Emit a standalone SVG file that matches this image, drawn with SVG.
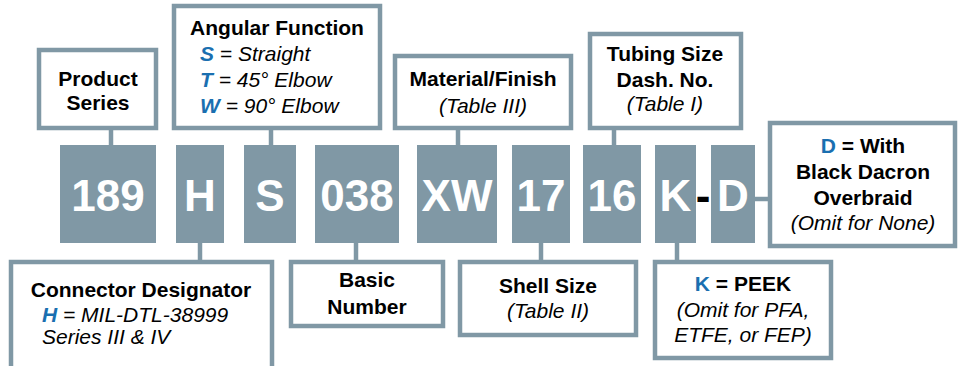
<svg xmlns="http://www.w3.org/2000/svg" width="959" height="366" viewBox="0 0 959 366">
<style>
.box{fill:#fff;stroke:#8098a5;stroke-width:4.5}
.code{fill:#8098a5}
.num{font-family:"Liberation Sans",Arial,sans-serif;font-weight:bold;font-size:44px;fill:#fff;text-anchor:middle}
.t{font-family:"Liberation Sans",Arial,sans-serif;font-size:21px;fill:#000}
.b{font-weight:bold}
.i{font-style:italic}
.c{text-anchor:middle}
.blue{fill:#1a6fb0}
.ln{stroke:#8098a5;stroke-width:4.5;fill:none}
</style>
<rect width="959" height="366" fill="#fff"/>
<g id="connectors">
<line class="ln" x1="111" y1="128" x2="111" y2="146"/>
<line class="ln" x1="271" y1="128" x2="271" y2="146"/>
<line class="ln" x1="458" y1="128" x2="458" y2="146"/>
<line class="ln" x1="614" y1="128" x2="614" y2="146"/>
<line class="ln" x1="200" y1="242" x2="200" y2="262"/>
<line class="ln" x1="356" y1="242" x2="356" y2="262"/>
<line class="ln" x1="541" y1="242" x2="541" y2="262"/>
<line class="ln" x1="677" y1="242" x2="677" y2="262"/>
<line class="ln" x1="753" y1="199" x2="770" y2="199"/>
</g>
<g id="code-189"><rect class="code" x="60" y="145" width="96" height="98"/><text class="num" x="108" y="211">189</text></g>
<g id="code-H"><rect class="code" x="176" y="145" width="48" height="98"/><text class="num" x="200" y="211">H</text></g>
<g id="code-S"><rect class="code" x="244" y="145" width="52" height="98"/><text class="num" x="270" y="211">S</text></g>
<g id="code-038"><rect class="code" x="315" y="145" width="84" height="98"/><text class="num" x="357" y="211">038</text></g>
<g id="code-XW"><rect class="code" x="417" y="145" width="80" height="98"/><text class="num" x="457" y="211">XW</text></g>
<g id="code-17"><rect class="code" x="512" y="145" width="58" height="98"/><text class="num" x="541" y="211">17</text></g>
<g id="code-16"><rect class="code" x="583" y="145" width="58" height="98"/><text class="num" x="612" y="211">16</text></g>
<g id="code-K"><rect class="code" x="655" y="145" width="41" height="98"/><text class="num" x="675.5" y="211">K</text></g>
<g id="dash"><text class="num" x="703" y="211" style="fill:#000">-</text></g>
<g id="code-D"><rect class="code" x="711" y="145" width="44" height="98"/><text class="num" x="733" y="211">D</text></g>

<g id="product-series"><rect class="box" x="39" y="50" width="117" height="78"/>
<text class="t b c" x="98" y="86">Product</text><text class="t b c" x="98" y="110">Series</text></g>

<g id="angular-function"><rect class="box" x="174" y="6" width="206" height="122"/>
<text class="t b c" x="277" y="35">Angular Function</text>
<text class="t i" x="200" y="61"><tspan class="b blue">S</tspan> = Straight</text>
<text class="t i" x="200" y="87"><tspan class="b blue">T</tspan> = 45° Elbow</text>
<text class="t i" x="200" y="113"><tspan class="b blue">W</tspan> = 90° Elbow</text></g>

<g id="material-finish"><rect class="box" x="395" y="56" width="176" height="72"/>
<text class="t b c" x="483" y="86">Material/Finish</text>
<text class="t i c" x="483" y="113">(Table III)</text></g>

<g id="tubing-size"><rect class="box" x="590" y="34" width="151" height="94"/>
<text class="t b c" x="665" y="61">Tubing Size</text>
<text class="t b c" x="665" y="87">Dash. No.</text>
<text class="t i c" x="665" y="111">(Table I)</text></g>

<g id="overbraid"><rect class="box" x="770" y="123" width="185" height="123"/>
<text class="t b c" x="863" y="153"><tspan class="blue">D</tspan> = With</text>
<text class="t b c" x="863" y="179">Black Dacron</text>
<text class="t b c" x="863" y="205">Overbraid</text>
<text class="t i c" x="863" y="230">(Omit for None)</text></g>

<g id="connector-designator"><rect class="box" x="11" y="262" width="261" height="120"/>
<text class="t b c" x="141" y="297">Connector Designator</text>
<text class="t i" x="42" y="322"><tspan class="b blue">H</tspan> = MIL-DTL-38999</text>
<text class="t i" x="42" y="344">Series III &amp; IV</text></g>

<g id="basic-number"><rect class="box" x="291" y="262" width="152" height="64"/>
<text class="t b c" x="367" y="287">Basic</text>
<text class="t b c" x="367" y="314">Number</text></g>

<g id="shell-size"><rect class="box" x="460" y="262" width="176" height="73"/>
<text class="t b c" x="548" y="293">Shell Size</text>
<text class="t i c" x="548" y="318">(Table II)</text></g>

<g id="peek"><rect class="box" x="655" y="262" width="176" height="96"/>
<text class="t b c" x="743" y="291"><tspan class="blue">K</tspan> = PEEK</text>
<text class="t i c" x="743" y="317">(Omit for PFA,</text>
<text class="t i c" x="743" y="342">ETFE, or FEP)</text></g>
</svg>
